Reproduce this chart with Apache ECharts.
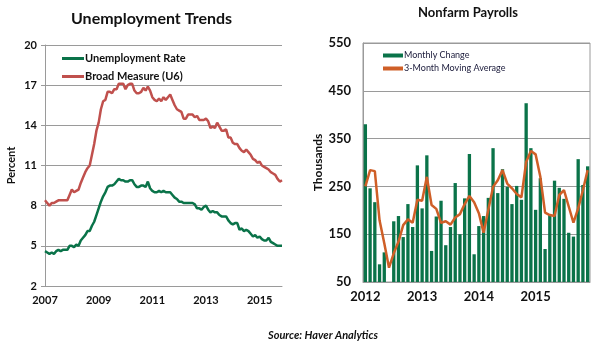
<!DOCTYPE html>
<html><head><meta charset="utf-8">
<script src="https://cdn.jsdelivr.net/npm/echarts@6/dist/echarts.min.js"></script>
<style>html,body{margin:0;padding:0;background:#fff}#c{width:595px;height:347px}</style>
</head><body><div id="c"></div>
<script>
// Left chart: monthly, Jan 2007 - Nov 2015
const leftStartYear = 2007;
const unemploymentRate = [
 4.6,4.5,4.4,4.5,4.4,4.6,4.7,4.6,4.7,4.7,4.7,5.0,
 5.0,4.9,5.1,5.0,5.4,5.6,5.8,6.1,6.1,6.5,6.8,7.3,
 7.8,8.3,8.7,9.0,9.4,9.5,9.5,9.6,9.8,10.0,9.9,9.9,
 9.8,9.8,9.9,9.9,9.6,9.4,9.4,9.5,9.5,9.4,9.8,9.3,
 9.1,9.0,9.0,9.1,9.0,9.1,9.0,9.0,9.0,8.8,8.6,8.5,
 8.3,8.3,8.2,8.2,8.2,8.2,8.2,8.1,7.8,7.8,7.7,7.9,
 8.0,7.7,7.5,7.6,7.5,7.5,7.3,7.2,7.2,7.2,6.9,6.7,
 6.6,6.7,6.7,6.2,6.3,6.1,6.2,6.1,5.9,5.7,5.8,5.6,
 5.7,5.5,5.4,5.4,5.6,5.3,5.2,5.1,5.0,5.0,5.0
];
const broadMeasureU6 = [
 8.4,8.2,8.0,8.2,8.2,8.3,8.4,8.4,8.4,8.4,8.4,8.8,
 9.2,9.0,9.1,9.2,9.7,10.1,10.5,10.8,11.0,11.8,12.6,13.6,
 14.2,15.2,15.8,15.9,16.5,16.5,16.4,16.7,16.7,17.1,17.1,17.1,
 16.7,17.0,17.1,17.1,16.6,16.4,16.4,16.5,16.8,16.6,16.9,16.6,
 16.1,15.9,15.8,16.0,15.8,16.1,15.9,16.1,16.3,15.9,15.5,15.2,
 15.1,15.0,14.5,14.5,14.8,14.8,14.8,14.6,14.7,14.4,14.4,14.4,
 14.5,14.3,13.8,13.9,13.8,14.2,13.9,13.6,13.6,13.7,13.1,13.1,
 12.7,12.6,12.6,12.3,12.1,12.0,12.2,12.0,11.8,11.5,11.4,11.2,
 11.3,11.0,10.9,10.8,10.7,10.5,10.4,10.3,10.0,9.8,9.9
];
const leftYTicks = [2, 5, 8, 11, 14, 17, 20];

// Right chart: monthly, Jan 2012 - Dec 2015
const rightStartYear = 2012;
const monthlyChange = [
 380,246,217,87,112,45,177,188,144,213,165,294,
 204,315,115,187,220,127,165,257,150,225,318,108,
 167,188,226,330,236,286,249,213,251,222,424,330,
 201,267,119,190,262,247,224,153,145,307,253,292
];
const movingAverage3 = [
 250,284,282,179,131,80,110,134,169,181,174,222,
 220,270,211,203,174,177,170,185,192,213,230,217,
 194,153,201,249,263,284,256,246,234,227,301,324,
 317,270,195,190,188,232,242,208,174,204,242,284
];
const rightYTicks = [50, 150, 250, 350, 450, 550];

function months(startYear, n) {
  const out = [];
  for (let i = 0; i < n; i++) {
    const y = startYear + Math.floor(i / 12);
    const m = (i % 12) + 1;
    out.push(y + '-' + (m < 10 ? '0' + m : m));
  }
  return out;
}
const leftCats = months(leftStartYear, unemploymentRate.length);
const rightCats = months(rightStartYear, monthlyChange.length);

const FONT = 'Lato, "Open Sans", sans-serif';
const GREEN = '#0a7349';
const RED = '#c0504d';
const ORANGE = '#cf5f27';
const GRID = '#9a9a9a';
const TXT = '#111';

const chart = echarts.init(document.getElementById('c'), null, {renderer: 'canvas'});
chart.setOption({
  animation: false,
  backgroundColor: '#fff',
  textStyle: {fontFamily: FONT},
  title: [
    {text: 'Unemployment Trends', left: 66, top: 6,
     textStyle: {fontFamily: FONT, fontWeight: 'bold', fontSize: 16, color: TXT}},
    {text: 'Nonfarm Payrolls', left: 413, top: 1,
     textStyle: {fontFamily: FONT, fontWeight: 'bold', fontSize: 13, color: TXT}}
  ],
  legend: [
    {left: 57, top: 48, orient: 'vertical', itemGap: 7,
     itemWidth: 22, itemHeight: 3, icon: 'rect',
     textStyle: {fontFamily: FONT, fontWeight: 'bold', fontSize: 11, color: TXT, padding: [0,0,0,-4]},
     data: ['Unemployment Rate', 'Broad Measure (U6)']},
    {left: 378, top: 46, orient: 'vertical', itemGap: 4,
     itemWidth: 20, itemHeight: 4, icon: 'rect',
     textStyle: {fontFamily: FONT, fontSize: 9, color: '#1a1a3a', padding: [0,0,0,-4]},
     data: ['Monthly Change', '3-Month Moving Average']}
  ],
  grid: [
    {left: 45, right: 313, top: 45, bottom: 61},
    {left: 363, right: 5, top: 43, bottom: 65, show: true, borderColor: GRID, borderWidth: 1}
  ],
  xAxis: [
    {gridIndex: 0, type: 'category', data: leftCats, boundaryGap: false,
     axisLine: {lineStyle: {color: GRID}},
     axisTick: {show: false},
     axisLabel: {interval: (i) => i % 24 === 0, formatter: (v) => v.slice(0, 4),
       fontFamily: FONT, fontWeight: 'bold', fontSize: 11, color: TXT, margin: 9}},
    {gridIndex: 1, type: 'category', data: rightCats, boundaryGap: true,
     axisLine: {lineStyle: {color: GRID}},
     axisTick: {show: false},
     axisLabel: {interval: (i) => i % 12 === 0, formatter: (v) => v.slice(0, 4),
       fontFamily: FONT, fontWeight: 'bold', fontSize: 13, color: TXT, margin: 8}}
  ],
  yAxis: [
    {gridIndex: 0, type: 'value', min: leftYTicks[0], max: leftYTicks[leftYTicks.length-1], interval: 3,
     name: 'Percent', nameLocation: 'middle', nameRotate: 90, nameGap: 28,
     nameTextStyle: {fontFamily: FONT, fontWeight: 'bold', fontSize: 11, color: TXT},
     axisLine: {show: true, lineStyle: {color: GRID}},
     axisTick: {show: true, length: 4, lineStyle: {color: GRID}},
     splitLine: {lineStyle: {color: GRID}},
     axisLabel: {fontFamily: FONT, fontWeight: 'bold', fontSize: 11, color: TXT, margin: 8}},
    {gridIndex: 1, type: 'value', min: rightYTicks[0], max: rightYTicks[rightYTicks.length-1], interval: 100,
     name: 'Thousands', nameLocation: 'middle', nameRotate: 90, nameGap: 38,
     nameTextStyle: {fontFamily: FONT, fontWeight: 'bold', fontSize: 12, color: TXT},
     axisLine: {show: true, lineStyle: {color: GRID}},
     axisTick: {show: false},
     splitLine: {lineStyle: {color: GRID}},
     axisLabel: {fontFamily: FONT, fontWeight: 'bold', fontSize: 13, color: TXT, margin: 12}}
  ],
  series: [
    {name: 'Unemployment Rate', type: 'line', xAxisIndex: 0, yAxisIndex: 0,
     data: unemploymentRate, symbol: 'none', lineStyle: {color: GREEN, width: 2.5}, itemStyle: {color: GREEN}},
    {name: 'Broad Measure (U6)', type: 'line', xAxisIndex: 0, yAxisIndex: 0,
     data: broadMeasureU6, symbol: 'none', lineStyle: {color: RED, width: 2.5}, itemStyle: {color: RED}},
    {name: 'Monthly Change', type: 'bar', xAxisIndex: 1, yAxisIndex: 1,
     data: monthlyChange, barCategoryGap: '30%', clip: true, itemStyle: {color: GREEN}},
    {name: '3-Month Moving Average', type: 'line', xAxisIndex: 1, yAxisIndex: 1,
     data: movingAverage3, symbol: 'none', lineStyle: {color: ORANGE, width: 2.5}, itemStyle: {color: ORANGE}}
  ],
  graphic: [
    {type: 'text', left: 268, top: 330,
     style: {text: 'Source: Haver Analytics', fontFamily: FONT, fontStyle: 'italic', fontWeight: 'bold', fontSize: 11, fill: TXT}}
  ]
});
</script></body></html>
